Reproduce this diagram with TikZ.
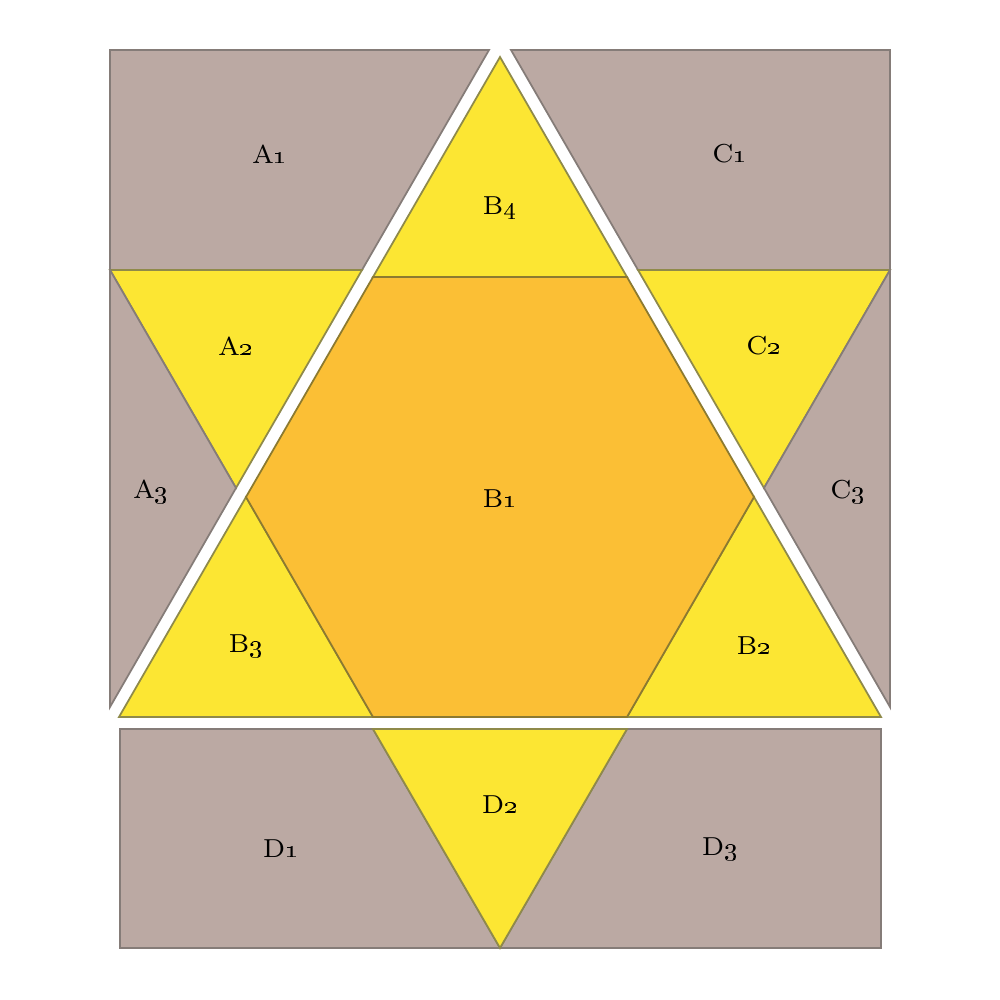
\documentclass[tikz,border=0pt]{standalone}
\usepackage{tikz}
\definecolor{greyfill}{HTML}{BBA9A3}
\definecolor{yelfill}{HTML}{FCE633}
\definecolor{orafill}{HTML}{FBBF35}
\definecolor{greyline}{HTML}{857C78}
\definecolor{yelline}{HTML}{8F8A4A}
\definecolor{oraline}{HTML}{8C7A30}
\tikzset{
  greypiece/.style={fill=greyfill, draw=greyline, line width=0.5pt, line join=miter},
  yelpiece/.style={fill=yelfill, draw=yelline, line width=0.5pt, line join=miter},
  orapiece/.style={fill=orafill, draw=oraline, line width=0.5pt, line join=miter},
  lab/.style={font=\fontsize{7.4}{8}\selectfont, inner sep=0pt}
}
\newcommand{\pl}[2]{#1\oldstylenums{#2}}
\begin{document}
\begin{tikzpicture}[x=0.01cm,y=-0.01cm]
\useasboundingbox (0,0) rectangle (1000,1000);
% A block
\draw[greypiece] (110,50) -- (489,50) -- (362,270) -- (110,270) -- cycle;
\draw[yelpiece] (110,270) -- (362,270) -- (236,488) -- cycle;
\draw[greypiece] (110,270) -- (236,488) -- (110,707) -- cycle;
% C block
\draw[greypiece] (511,50) -- (890,50) -- (890,270) -- (638,270) -- cycle;
\draw[yelpiece] (638,270) -- (890,270) -- (764,488) -- cycle;
\draw[greypiece] (890,270) -- (764,488) -- (890,707) -- cycle;
% B block
\draw[yelpiece] (500,57) -- (627,277) -- (373,277) -- cycle;
\draw[yelpiece] (246,497) -- (373,717) -- (119,717) -- cycle;
\draw[yelpiece] (754,497) -- (881,717) -- (627,717) -- cycle;
\draw[orapiece] (373,277) -- (627,277) -- (754,497) -- (627,717) -- (373,717) -- (246,497) -- cycle;
% D block
\draw[greypiece] (120,729) -- (373,729) -- (500,948) -- (120,948) -- cycle;
\draw[greypiece] (627,729) -- (881,729) -- (881,948) -- (500,948) -- cycle;
\draw[yelpiece] (373,729) -- (627,729) -- (500,948) -- cycle;
% labels
\node[lab] (a1) at (270,154) {\pl{A}{1}};
\node[lab] (c1) at (730,154) {\pl{C}{1}};
\node[lab] (b4) at (500,208) {\pl{B}{4}};
\node[lab] (a2) at (236,346) {\pl{A}{2}};
\node[lab] (c2) at (764,346) {\pl{C}{2}};
\node[lab] (a3) at (151,492) {\pl{A}{3}};
\node[lab] (c3) at (848,492) {\pl{C}{3}};
\node[lab] (b1) at (500,499) {\pl{B}{1}};
\node[lab] (b3) at (246,646) {\pl{B}{3}};
\node[lab] (b2) at (754,646) {\pl{B}{2}};
\node[lab] (d2) at (500,805) {\pl{D}{2}};
\node[lab] (d1) at (281,849) {\pl{D}{1}};
\node[lab] (d3) at (720,849) {\pl{D}{3}};
\end{tikzpicture}
\end{document}
